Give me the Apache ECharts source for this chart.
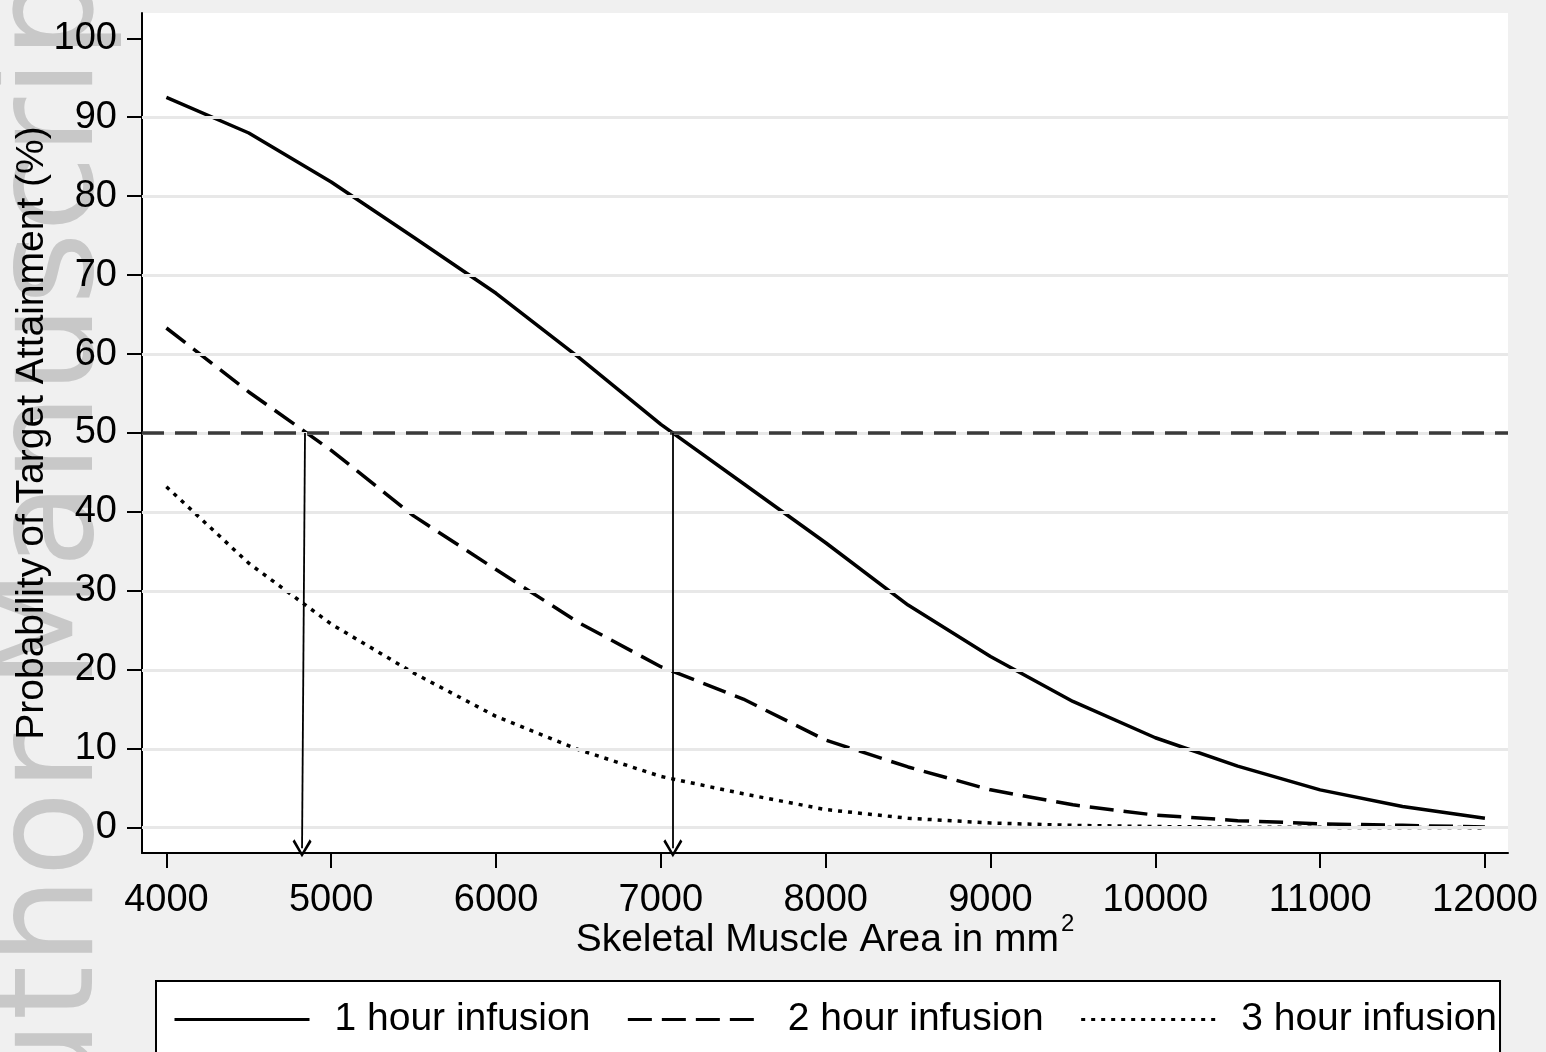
<!DOCTYPE html>
<html>
<head>
<meta charset="utf-8">
<style>
  html, body { margin: 0; padding: 0; background: #f0f0f0; }
  #chart { width: 1546px; height: 1052px; }
</style>
<script src="https://cdn.jsdelivr.net/npm/echarts@6/dist/echarts.min.js"></script>
</head>
<body>
<div id="chart"></div>
<script>
// ---- data ----
const xVals = [4000, 4500, 5000, 5500, 6000, 6500, 7000, 7500, 8000, 8500, 9000, 9500, 10000, 10500, 11000, 11500, 12000];
const oneHour = [92.5, 88.0, 81.8, 74.8, 67.7, 59.6, 51.1, 43.6, 36.1, 28.2, 21.7, 16.0, 11.4, 7.8, 4.8, 2.7, 1.2];
const twoHour = [63.3, 55.2, 47.8, 39.5, 32.7, 26.0, 20.4, 16.3, 11.1, 7.7, 4.8, 2.9, 1.6, 0.9, 0.5, 0.3, 0.1];
const threeHour = [43.2, 33.5, 25.8, 19.6, 14.1, 9.9, 6.5, 4.3, 2.3, 1.2, 0.6, 0.3, 0.15, 0.08, 0.05, 0.03, 0.01];
const seriesNames = ['1 hour infusion', '2 hour infusion', '3 hour infusion'];
const xTicks = [4000, 5000, 6000, 7000, 8000, 9000, 10000, 11000, 12000];
const yTicks = [0, 10, 20, 30, 40, 50, 60, 70, 80, 90, 100];
const yGrid = [0, 10, 20, 30, 40, 50, 60, 70, 80, 90];
const refLevel = 50;
const arrowTopX = [4841, 7073];
const arrowBottomX = [4823, 7073];
const arrowBottomY = -2.6;

const chart = echarts.init(document.getElementById('chart'), null, { renderer: 'canvas' });
const FONT = 'Liberation Sans, Arial, Helvetica, sans-serif';
const chevron = 'path://M50,0 L100,87 L90,100 L50,27 L10,100 L0,87 Z';

const pairs = vals => xVals.map((x, i) => [x, vals[i]]);
const plain = v => String(v);

const option = {
  backgroundColor: '#f0f0f0',
  animation: false,
  textStyle: { fontFamily: FONT, color: '#000' },
  graphic: [{
    type: 'text',
    x: 56, y: 1205,
    rotation: Math.PI / 2,
    z: -10,
    silent: true,
    style: {
      text: 'Author Manuscript',
      font: '140px "DejaVu Sans"',
      fill: '#c8c8c8',
      align: 'left',
      verticalAlign: 'middle'
    }
  }],
  grid: {
    left: 142, right: 38, top: 13, bottom: 199,
    show: true, backgroundColor: '#ffffff', borderWidth: 0
  },
  legend: {
    data: seriesNames,
    left: 156, top: 981,
    orient: 'horizontal',
    padding: [19, 3, 40, 17],
    itemGap: 36,
    itemWidth: 135,
    itemHeight: 39,
    itemStyle: { opacity: 0 },
    lineStyle: { width: 3 },
    backgroundColor: '#ffffff',
    borderColor: '#000',
    borderWidth: 2,
    borderRadius: 0,
    textStyle: { fontSize: 39, fontFamily: FONT, color: '#000', padding: [0, 0, 0, 20], lineHeight: 39 }
  },
  xAxis: {
    type: 'value',
    min: 3852, max: 12140,
    name: '{a|Skeletal Muscle Area in mm}{s|2}',
    nameLocation: 'middle',
    nameGap: 59,
    nameMoveOverlap: false,
    nameTextStyle: {
      rich: {
        a: { fontSize: 39, fontFamily: FONT, color: '#000', lineHeight: 56, verticalAlign: 'middle' },
        s: { fontSize: 24, fontFamily: FONT, color: '#000', lineHeight: 24, verticalAlign: 'top', padding: [0, 0, 0, 2] }
      }
    },
    axisLine: { show: true, onZero: false, lineStyle: { color: '#000', width: 2 } },
    axisTick: { show: true, inside: false, length: 15, lineStyle: { color: '#000', width: 2 }, customValues: xTicks },
    axisLabel: { fontSize: 38, fontFamily: FONT, color: '#000', margin: 29, customValues: xTicks, formatter: plain },
    splitLine: { show: false }
  },
  yAxis: {
    type: 'value',
    min: -3.2, max: 103.2,
    name: 'Probability of Target Attainment (%)',
    nameLocation: 'middle',
    nameGap: 90,
    nameMoveOverlap: false,
    nameRotate: 90,
    nameTextStyle: { fontSize: 39, fontFamily: FONT, color: '#000' },
    axisLine: { show: true, onZero: false, lineStyle: { color: '#000', width: 2 } },
    axisTick: { show: true, inside: false, length: 15, lineStyle: { color: '#000', width: 2 }, customValues: yTicks },
    axisLabel: { fontSize: 38, fontFamily: FONT, color: '#000', margin: 25, customValues: yTicks, formatter: plain },
    splitLine: { show: false }
  },
  series: [
    {
      name: 'grid', type: 'line', data: [], silent: true, z: 1,
      markLine: {
        silent: true, symbol: 'none', animation: false,
        label: { show: false },
        lineStyle: { color: '#e8e8e8', width: 3, type: 'solid' },
        data: yGrid.map(v => ({ yAxis: v }))
      }
    },
    {
      name: seriesNames[0], type: 'line', data: pairs(oneHour), symbol: 'none', z: 4,
      lineStyle: { color: '#000', width: 3.5, type: 'solid', cap: 'butt' }, itemStyle: { color: '#000' }
    },
    {
      name: seriesNames[1], type: 'line', data: pairs(twoHour), symbol: 'none', z: 4,
      lineStyle: { color: '#000', width: 3.5, type: [24, 10], cap: 'butt' }, itemStyle: { color: '#000' }
    },
    {
      name: seriesNames[2], type: 'line', data: pairs(threeHour), symbol: 'none', z: 4,
      lineStyle: { color: '#000', width: 3.5, type: [4, 6], cap: 'butt' }, itemStyle: { color: '#000' }
    },
    {
      name: 'ref', type: 'line', data: [], silent: true, z: 3,
      markLine: {
        silent: true, symbol: 'none', animation: false,
        label: { show: false },
        lineStyle: { color: '#3a3a3a', width: 3.5, type: [22, 11] },
        data: [{ yAxis: refLevel }]
      }
    },
    {
      name: 'arrows', type: 'line', data: [], silent: true, z: 5,
      markLine: {
        silent: true, animation: false,
        symbol: ['none', chevron],
        symbolSize: [19, 18],
        label: { show: false },
        lineStyle: { color: '#000', width: 1.8, type: 'solid' },
        data: arrowTopX.map((x, i) => [
          { coord: [x, refLevel] },
          { coord: [arrowBottomX[i], arrowBottomY] }
        ])
      }
    }
  ]
};
chart.setOption(option);
</script>
</body>
</html>
